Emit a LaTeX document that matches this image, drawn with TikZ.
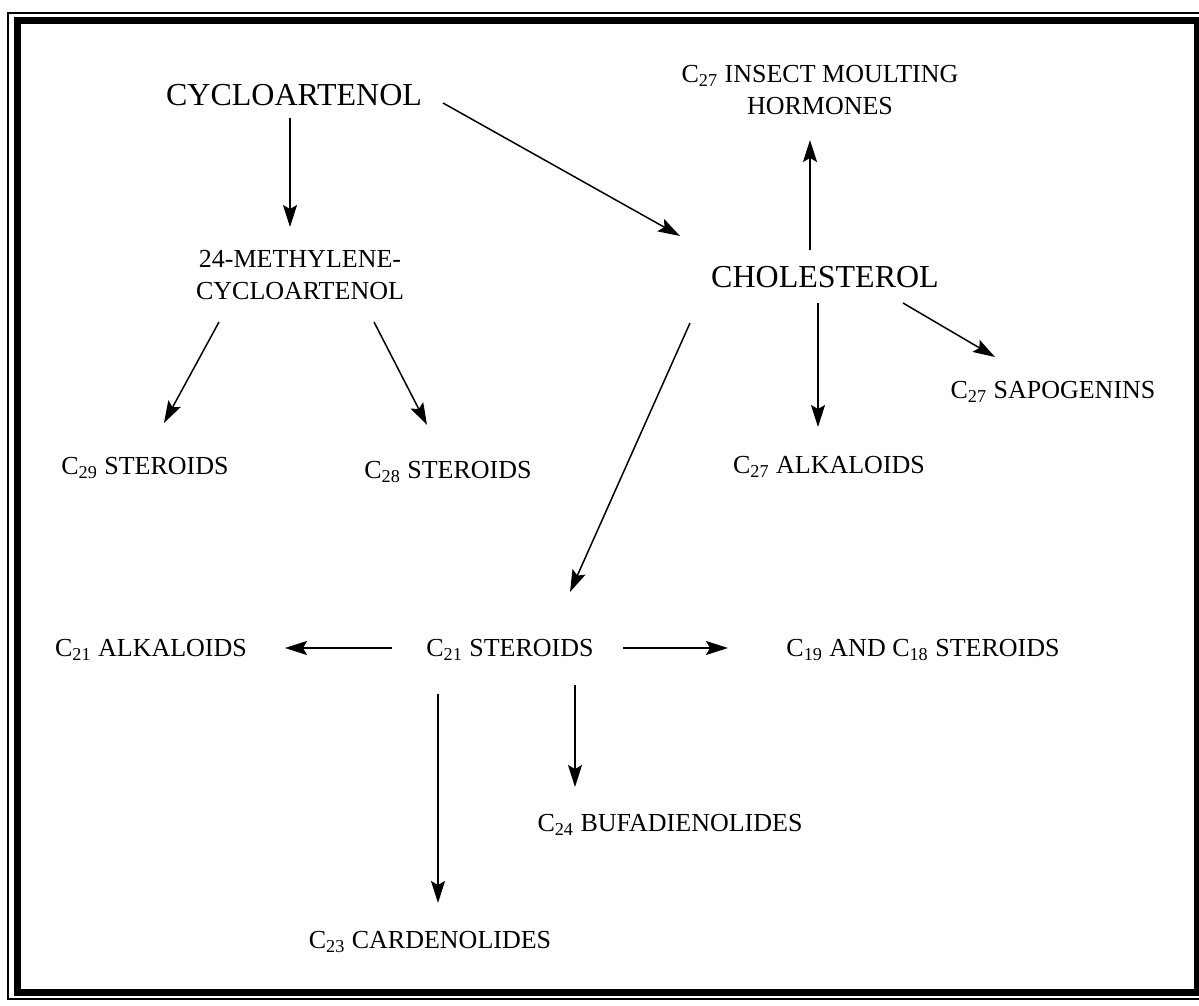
\documentclass[tikz,border=0pt]{standalone}
\usepackage{fontspec}
\setmainfont{Liberation Serif}
\usetikzlibrary{arrows.meta}

\begin{document}
\begin{tikzpicture}[
    x=0.5pt, y=-0.5pt,
    big/.style={font=\fontsize{16}{19}\selectfont, inner sep=0pt, text height=10.6pt, text depth=0pt},
    prod/.style={font=\fontsize{13}{16}\selectfont, inner sep=0pt, text height=8.6pt, text depth=0pt},
    prodtwo/.style={font=\fontsize{13}{16}\selectfont, inner sep=0pt, align=center},
    conv/.style={-{Stealth[length=11pt, width=7pt, inset=2pt]}, line width=0.75pt}
]

\def\yRow{648}

\useasboundingbox (0,0) rectangle (1199,1006);
\draw[line width=0.75pt] (8,13) rectangle (1210,999);
\draw[line width=3.5pt] (17,21) rectangle (1197,992);

\node[big] (cyclo) at (294,95) {CYCLOARTENOL};
\node[prodtwo] (methyl) at (300,275) {24-METHYLENE-\\CYCLOARTENOL};
\node[prod] (c29) at (145,466) {C\textsubscript{29} STEROIDS};
\node[prod] (c28) at (448,470) {C\textsubscript{28} STEROIDS};

\node[big] (chol) at (825,277) {CHOLESTEROL};
\node[prodtwo] (hormones) at (820,90) {C\textsubscript{27} INSECT MOULTING\\HORMONES};
\node[prod] (sapo) at (1053,390) {C\textsubscript{27} SAPOGENINS};
\node[prod] (alk27) at (829,465) {C\textsubscript{27} ALKALOIDS};

\node[prod] (st21) at (510,\yRow) {C\textsubscript{21} STEROIDS};
\node[prod] (alk21) at (151,\yRow) {C\textsubscript{21} ALKALOIDS};
\node[prod] (st19) at (923,\yRow) {C\textsubscript{19} AND C\textsubscript{18} STEROIDS};
\node[prod] (bufa) at (670,823) {C\textsubscript{24} BUFADIENOLIDES};
\node[prod] (carde) at (430,940) {C\textsubscript{23} CARDENOLIDES};

\draw[conv] ([shift={(-4,23)}]cyclo.center)    -- ([shift={(-10,-48)}]methyl.center);
\draw[conv] ([shift={(149,8)}]cyclo.center)    -- ([shift={(-145,-41)}]chol.center);
\draw[conv] ([shift={(-81,47)}]methyl.center)  -- ([shift={(19,-43)}]c29.center);
\draw[conv] ([shift={(74,47)}]methyl.center)   -- ([shift={(-21,-45)}]c28.center);

\draw[conv] ([shift={(-15,-27)}]chol.center)   -- ([shift={(-10,50)}]hormones.center);
\draw[conv] ([shift={(-7,26)}]chol.center)     -- ([shift={(-11,-38)}]alk27.center);
\draw[conv] ([shift={(78,26)}]chol.center)     -- ([shift={(-58,-33)}]sapo.center);
\draw[conv] ([shift={(-135,46)}]chol.center)   -- ([shift={(60,-56)}]st21.center);

\draw[conv] ([shift={(-118,0)}]st21.center)    -- ([shift={(134,0)}]alk21.center);
\draw[conv] ([shift={(113,0)}]st21.center)     -- ([shift={(-195,0)}]st19.center);
\draw[conv] ([shift={(65,37)}]st21.center)     -- ([shift={(-95,-36)}]bufa.center);
\draw[conv] ([shift={(-72,46)}]st21.center)    -- ([shift={(8,-37)}]carde.center);

\end{tikzpicture}
\end{document}
